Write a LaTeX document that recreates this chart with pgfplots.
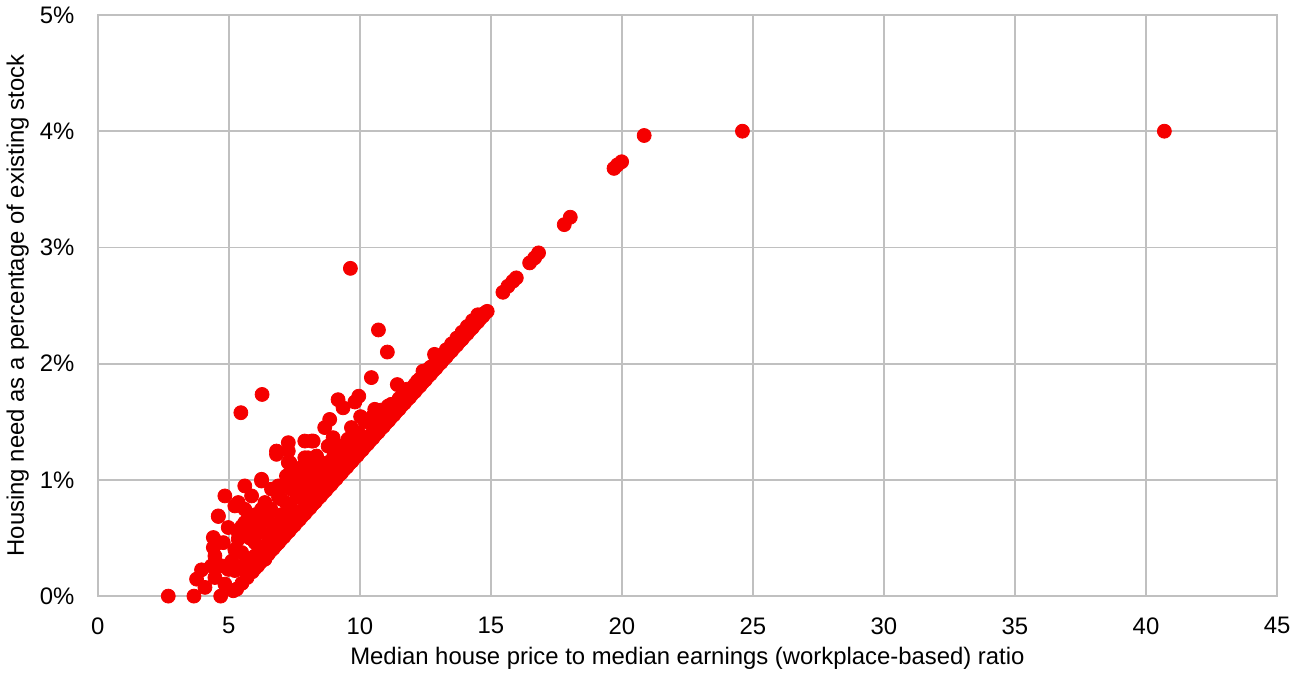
\documentclass[border=0pt]{standalone}
\usepackage{pgfplots}
\pgfplotsset{compat=1.18}
\usepackage{fontspec}
\setmainfont{Liberation Sans}
\definecolor{ptred}{RGB}{245,0,0}
\definecolor{gridgray}{RGB}{192,192,192}
\begin{document}
\begin{tikzpicture}
\begin{axis}[
  scale only axis,
  width=590.5bp, height=291bp,
  xmin=0, xmax=45, ymin=0, ymax=5,
  xtick={0,5,10,15,20,25,30,35,40,45},
  xticklabels={0,5,10,15,20,25,30,35,40,45},
  ytick={0,1,2,3,4,5},
  yticklabels={0\%,1\%,2\%,3\%,4\%,5\%},
  grid=major,
  major grid style={draw=gridgray, line width=0.9bp},
  axis line style={draw=gridgray, line width=0.9bp},
  major tick length=0pt,
  tick label style={font=\fontsize{12}{14}\selectfont, inner sep=0pt},
  xticklabel style={yshift=-10.5bp},
  yticklabel style={xshift=-11.5bp},
  label style={font=\fontsize{12}{14}\selectfont},
  xlabel={Median house price to median earnings (workplace-based) ratio},
  ylabel={Housing need as a percentage of existing stock},
  xlabel style={yshift=-3bp},
  ylabel style={yshift=2bp},
  clip=false,
]
\addplot[only marks, mark=*, mark size=3.5bp, color=ptred, mark options={draw=ptred, fill=ptred}] table {
x y
2.69 0
3.67 0
4.69 0
9.64 2.82
6.27 1.735
5.46 1.578
10.71 2.29
11.05 2.10
10.44 1.88
11.43 1.82
12.88 2.07
12.85 2.08
13.49 2.137
12.41 1.935
9.17 1.69
9.36 1.62
9.96 1.72
9.81 1.67
8.85 1.52
8.66 1.45
10.03 1.544
9.68 1.45
10.57 1.607
11.08 1.635
8.98 1.363
8.16 1.334
8.22 1.334
7.90 1.334
7.27 1.32
6.82 1.248
6.82 1.22
7.27 1.248
7.90 1.19
8.35 1.205
8.03 1.19
8.79 1.29
9.17 1.29
9.55 1.35
9.94 1.406
7.20 1.033
7.90 1.005
6.89 0.948
7.39 0.92
7.27 1.149
7.33 1.149
7.39 1.076
7.52 1.005
7.96 0.99
6.25 0.99
6.25 1.005
5.61 0.948
4.85 0.862
6.63 0.92
7.01 0.934
5.87 0.862
4.60 0.69
5.36 0.805
6.38 0.805
7.01 0.833
7.65 0.92
4.60 0.685
4.98 0.59
4.41 0.504
4.41 0.418
4.47 0.346
3.96 0.226
3.77 0.146
4.09 0.075
4.73 0.26
4.47 0.16
4.85 0.103
5.17 0.046
5.74 0.19
5.23 0.22
5.11 0.30
5.23 0.40
4.79 0.46
5.36 0.49
5.87 0.547
6.25 0.40
5.74 0.318
5.49 0.375
6.00 0.346
6.38 0.318
6.76 0.432
6.63 0.547
6.12 0.604
5.61 0.633
5.36 0.547
5.23 0.776
5.61 0.747
5.87 0.69
6.25 0.747
6.50 0.66
7.01 0.69
7.14 0.547
6.89 0.518
6.50 0.46
6.00 0.46
4.60 0.46
4.98 0.23
5.49 0.26
4.34 0.26
5.50 0.60
5.80 0.50
6.00 0.70
6.20 0.55
6.40 0.65
6.60 0.75
6.80 0.60
7.00 0.70
7.20 0.80
7.40 0.75
7.60 0.85
6.90 0.85
7.80 0.90
8.00 0.95
8.20 1.00
8.40 1.05
8.60 1.10
8.80 1.15
9.00 1.20
9.20 1.25
7.50 0.95
7.70 1.10
8.30 1.10
8.50 1.15
8.00 1.10
8.90 1.30
9.40 1.30
9.60 1.35
9.80 1.40
10.20 1.50
10.50 1.55
10.80 1.60
11.20 1.65
11.50 1.70
11.80 1.78
12.20 1.85
12.60 1.95
13.00 2.05
13.40 2.13
13.80 2.22
14.20 2.32
14.60 2.42
5.30 0.06
5.50 0.11
5.70 0.16
5.90 0.21
6.0 0.24
6.1 0.26
6.2 0.29
6.3 0.31
6.4 0.34
6.5 0.36
6.6 0.39
6.7 0.41
6.8 0.44
6.9 0.46
7.0 0.49
7.1 0.51
7.2 0.54
7.3 0.56
7.4 0.59
7.5 0.61
7.6 0.64
7.7 0.66
7.8 0.69
7.9 0.71
8.0 0.74
8.1 0.76
8.2 0.79
8.3 0.81
8.4 0.84
8.5 0.86
8.6 0.89
8.7 0.91
8.8 0.94
8.9 0.96
9.0 0.99
9.1 1.01
9.2 1.04
9.3 1.06
9.4 1.09
9.5 1.11
9.6 1.14
9.7 1.16
9.8 1.19
9.9 1.21
10.0 1.24
10.1 1.26
10.2 1.29
10.3 1.31
10.4 1.34
10.5 1.36
10.6 1.39
10.7 1.41
10.8 1.44
10.9 1.46
11.0 1.49
11.1 1.51
11.2 1.54
11.3 1.56
11.4 1.59
11.5 1.61
11.6 1.64
11.7 1.66
11.8 1.69
11.9 1.71
12.0 1.74
12.1 1.76
12.2 1.79
12.3 1.81
12.4 1.84
12.5 1.86
12.6 1.89
12.7 1.91
12.8 1.94
12.9 1.96
13.0 1.99
13.1 2.01
13.2 2.04
13.3 2.06
13.4 2.09
13.5 2.11
13.6 2.14
13.7 2.16
13.8 2.19
13.9 2.21
14.0 2.24
14.1 2.26
14.2 2.29
14.3 2.31
14.4 2.34
14.5 2.36
14.6 2.39
14.7 2.41
14.8 2.44
14.86 2.45
6.1 0.32
6.3 0.37
6.5 0.42
6.7 0.47
6.9 0.52
7.1 0.57
7.3 0.62
7.5 0.67
7.7 0.72
7.9 0.77
8.1 0.82
8.3 0.87
8.5 0.92
8.7 0.97
8.9 1.02
9.1 1.07
9.3 1.12
9.5 1.17
9.7 1.22
9.9 1.27
10.1 1.32
10.3 1.37
10.5 1.42
10.7 1.47
10.9 1.52
11.1 1.57
11.3 1.62
11.5 1.67
11.7 1.72
11.9 1.77
12.1 1.82
12.3 1.87
12.5 1.92
12.7 1.97
12.9 2.02
13.1 2.07
13.3 2.12
13.5 2.17
13.7 2.22
13.9 2.27
14.1 2.32
14.3 2.37
14.5 2.42
15.46 2.614
15.65 2.666
15.84 2.709
15.97 2.738
16.48 2.867
16.67 2.91
16.82 2.953
17.80 3.196
18.03 3.26
19.70 3.68
19.83 3.71
19.99 3.737
20.85 3.963
24.60 4.00
40.70 4.00
};
\end{axis}
\path ([xshift=13bp,yshift=7.5bp]current axis.north east);
\path ([yshift=-39.5bp]current axis.south west);
\end{tikzpicture}
\end{document}
